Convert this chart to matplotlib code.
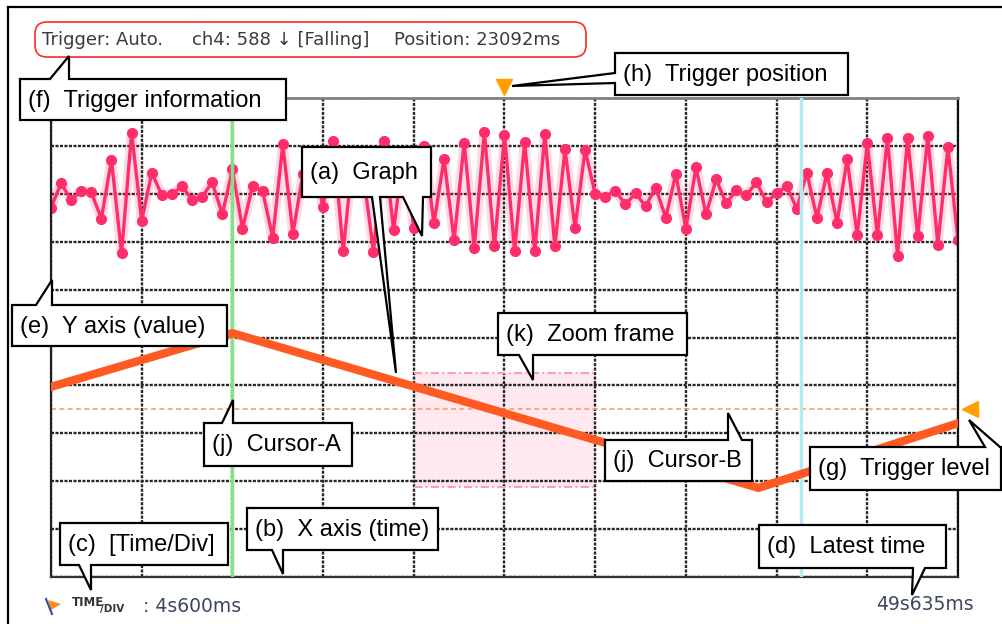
import numpy as np
import matplotlib
matplotlib.use("Agg")
import matplotlib.pyplot as plt
from matplotlib.patches import Polygon, FancyBboxPatch, Rectangle

# ---- data (x and y in screen divisions, 10 x 10 grid) ----
# top trace, one sample every 1/9 division
ch_red = [7.71, 8.22, 7.87, 8.06, 8.03, 7.48, 8.71, 6.76, 9.27, 7.44,
          8.44, 7.97, 7.99, 8.16, 7.88, 7.94, 8.24, 7.57, 8.51, 7.27,
          8.16, 8.06, 7.08, 9.03, 7.17, 8.41, 8.60, 7.73, 9.10, 6.80,
          8.90, 8.40, 6.79, 9.10, 7.24, 8.90, 7.29, 9.00, 7.38, 8.73,
          7.03, 9.07, 6.87, 9.28, 6.90, 9.23, 6.80, 9.08, 6.80, 9.24,
          6.90, 8.93, 7.29, 8.92, 7.99, 7.94, 8.06, 7.78, 8.01, 7.74,
          8.13, 7.50, 8.41, 7.27, 8.55, 7.57, 8.30, 7.80, 8.07, 7.97,
          8.24, 7.83, 8.01, 8.16, 7.69, 8.44, 7.50, 8.43, 7.39, 8.73,
          7.13, 9.06, 7.13, 9.17, 6.71, 9.17, 7.11, 9.20, 6.94, 8.97,
          7.04]
# lower trace (ramp), corner points
ramp_x = [0.0, 2.0, 7.8, 10.0]
ramp_y = [3.97, 5.09, 1.86, 3.21]

cursor_a = 2.0
cursor_b = 8.27
trig_pos = 5.0
trig_level = 3.5
zoom_x = [4.0, 6.0]
zoom_y = [1.88, 4.26]

trig_texts = ["Trigger: Auto.", "ch4: 588 \u2193 [Falling]", "Position: 23092ms"]
time_div = ": 4s600ms"
latest_time = "49s635ms"

W, H = 1003, 624
fig = plt.figure(figsize=(W / 100, H / 100), dpi=100)

# main scope screen
ax = fig.add_axes([51 / W, 1 - 577 / H, 907 / W, 479 / H])
ax.set_xlim(0, 10)
ax.set_ylim(0, 10)
ax.set_xticks(np.arange(0, 11))
ax.set_yticks(np.arange(0, 11))
ax.tick_params(length=0, labelbottom=False, labelleft=False)
ax.set_axisbelow(True)
ax.grid(True, color='#262626', lw=1.7, ls=(0, (1.3, 0.6)))
ax.spines['left'].set(color='#222222', lw=1.6)
ax.spines['bottom'].set(color='#333333', lw=1.6)
ax.spines['right'].set(color='#111111', lw=1.6)
ax.spines['top'].set(color='#808080', lw=2)

# zoom frame
ax.add_patch(Rectangle((zoom_x[0], zoom_y[0]), zoom_x[1] - zoom_x[0], zoom_y[1] - zoom_y[0],
                       fc='#ffe9ee', ec='none', zorder=0.2))
for zy in zoom_y:
    ax.plot(zoom_x, [zy, zy], color='#ff9db5', lw=1.5, ls=(0, (4, 1.5, 1, 1.5)), zorder=0.7)

# trigger level line
ax.axhline(trig_level, color='#ff9a70', lw=1.2, ls=(0, (3, 2)), zorder=1.5)

# red trace with glow
t_red = np.linspace(0, 10, len(ch_red))
ax.plot(t_red, ch_red, color='#ff2d6a', lw=7, alpha=0.18, zorder=2)
ax.plot(t_red, ch_red, color='#ff2d6a', lw=2.4, marker='o', ms=7, zorder=2.1)

# cursors
ax.axvline(cursor_a, color='#84e484', lw=2.5, zorder=3)
ax.axvline(cursor_b, color='#b2ecf0', lw=2.5, zorder=3)

# orange ramp
ax.plot(ramp_x, ramp_y, color='#ff5a24', lw=6, zorder=4)

# trigger markers
ax.plot([trig_pos], [10.23], marker='v', ms=12, color='#ffa000', clip_on=False, zorder=6)
ax.plot([10.13], [trig_level], marker='<', ms=11, color='#ffa000', clip_on=False, zorder=6)

# ---- overlay for annotations, in pixel coords ----
ov = fig.add_axes([0, 0, 1, 1], zorder=10)
ov.set_xlim(0, W)
ov.set_ylim(H, 0)
ov.axis('off')

# outer frame
ov.plot([8, W], [7, 7], color='black', lw=1.6)
ov.plot([8, 8], [7, H], color='black', lw=1.6)

# trigger info line
ov.add_patch(FancyBboxPatch((35, 22), 551, 35, boxstyle="round,pad=0,rounding_size=12",
                            fc='none', ec='#ff2a2a', lw=1.2))
for x, s in zip([42, 192, 394], trig_texts):
    ov.text(x, 40, s, fontsize=13, color='#3a3a42', va='center', ha='left',
            family=['DejaVu Sans'])

# time/div and latest time
ov.add_patch(Polygon([(48, 600), (61, 604), (51, 610)], closed=True, fc='#ff8a20', ec='none'))
ov.plot([46, 52], [599, 614], color='#3050a0', lw=1.5)
ov.text(72, 602, "TIME", fontsize=8.5, fontweight='bold', color='#333333', va='center')
ov.text(100, 609, "/DIV", fontsize=7.5, fontweight='bold', color='#333333', va='center')
ov.text(143, 607, time_div, fontsize=13.5, color='#3c4660', va='center')
ov.text(876, 604, latest_time, fontsize=13.5, color='#3c4660', va='center')


def callout(box, label, wedges):
    x0, y0, x1, y1 = box
    top = [w for w in wedges if w[0] == 'top']
    bot = [w for w in wedges if w[0] == 'bottom']
    left = [w for w in wedges if w[0] == 'left']
    pts = [(x0, y0)]
    for _, b0, b1, apex in sorted(top, key=lambda w: w[1]):
        pts += [(b0, y0), apex, (b1, y0)]
    pts += [(x1, y0), (x1, y1)]
    for _, b0, b1, apex in sorted(bot, key=lambda w: -w[1]):
        pts += [(b1, y1), apex, (b0, y1)]
    pts += [(x0, y1)]
    for _, b0, b1, apex in sorted(left, key=lambda w: -w[1]):
        pts += [(x0, b1), apex, (x0, b0)]
    ov.add_patch(Polygon(pts, closed=True, fc='white', ec='black', lw=1.6, joinstyle='miter'))
    ov.text(x0 + 8, (y0 + y1) / 2 + 1, label, fontsize=17, va='center', ha='left',
            family=['Liberation Sans', 'DejaVu Sans'])


callout((20, 79, 286, 120), "(f)  Trigger information", [('top', 50, 69, (69, 56))])
callout((615, 53, 848, 95), "(h)  Trigger position", [('left', 73, 83, (512, 86))])
callout((302, 147, 431, 197), "(a)  Graph",
        [('bottom', 372, 380, (396, 373)), ('bottom', 403, 423, (422, 236))])
callout((12, 305, 227, 346), "(e)  Y axis (value)", [('top', 36, 52, (52, 280))])
callout((498, 313, 687, 355), "(k)  Zoom frame", [('bottom', 519, 533, (533, 380))])
callout((204, 423, 352, 466), "(j)  Cursor-A", [('top', 222, 233, (233, 400))])
callout((605, 440, 752, 481), "(j)  Cursor-B", [('top', 728, 742, (728, 413))])
callout((810, 447, 1001, 490), "(g)  Trigger level", [('top', 985, 1000, (969, 420))])
callout((247, 508, 438, 550), "(b)  X axis (time)", [('bottom', 272, 283, (283, 574))])
callout((60, 523, 228, 565), "(c)  [Time/Div]", [('bottom', 79, 91, (91, 590))])
callout((759, 525, 946, 568), "(d)  Latest time", [('bottom', 913, 925, (912, 595))])

fig.savefig("out.png", dpi=100)
